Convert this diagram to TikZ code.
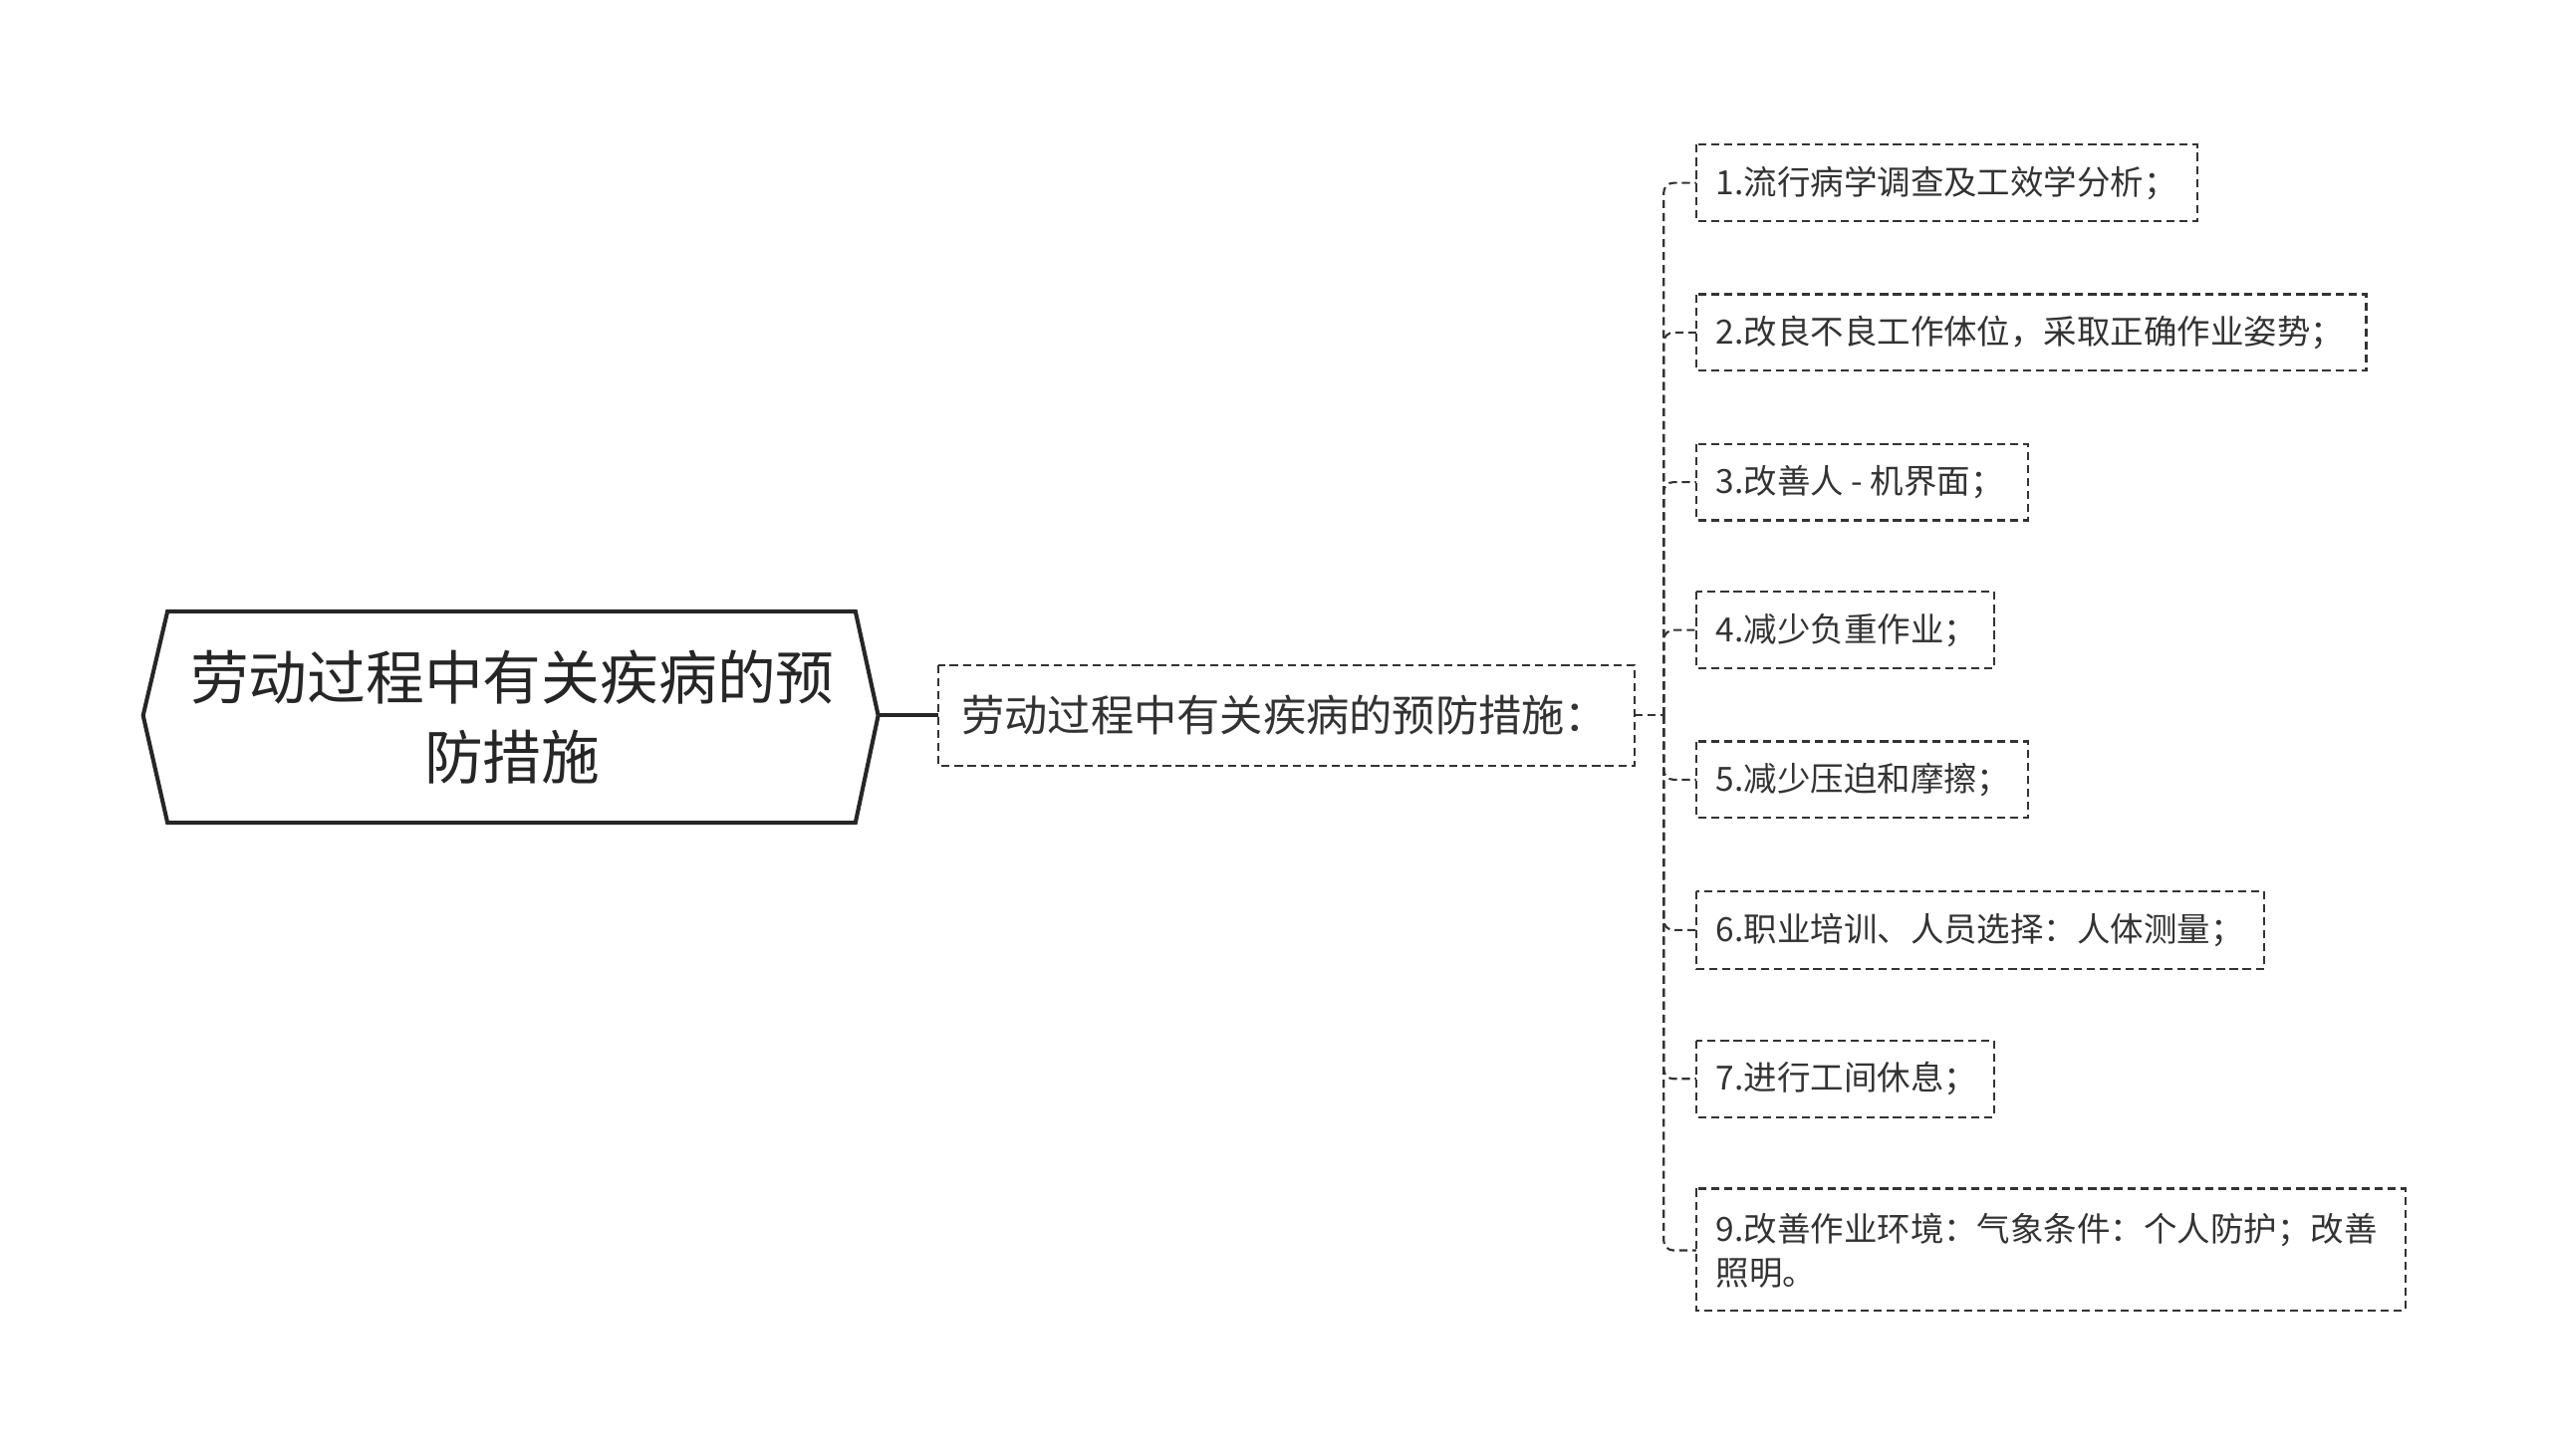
\documentclass[tikz,border=0pt]{standalone}
\usepackage{fontspec}
\setmainfont{Noto Sans CJK SC}
\begin{document}
\begin{tikzpicture}[x=1pt,y=-1pt,
  leaf/.style={draw=black!80,dashed,line width=1.3pt,dash pattern=on 5pt off 3pt},
  lt/.style={anchor=west,text=black!80,font=\fontsize{20.5}{27}\selectfont,inner sep=0pt,align=left},
  con/.style={draw=black!80,line width=1.3pt,dash pattern=on 5pt off 3pt}]
\useasboundingbox (0,0) rectangle (1568,895);
\draw[line width=2.5pt,draw=black!85,fill=white] (88,440)--(103,376)--(526,376)--(540,440)--(526,506)--(103,506)--cycle;
\node[text=black!85,font=\fontsize{36}{49}\selectfont,align=center] (root) at (315,441) {劳动过程中有关疾病的预\\防措施};
\coordinate (rr) at (540,440);
\draw[leaf] (577,409) rectangle (1005,471);
\coordinate (cl) at (577,440);
\coordinate (cr) at (1005,440);
\draw[line width=2.5pt,black!85] (rr)--(cl);
\node[lt,font=\fontsize{26.5}{30}\selectfont] (child) at (591,440) {劳动过程中有关疾病的预防措施：};
\coordinate (j) at (1023,440);
\draw[con] (cr)--(j);
\foreach \i/\yt/\yb/\xr/\t in {1/89/136/1351/{1.流行病学调查及工效学分析；},
  2/181/228/1455/{2.改良不良工作体位，采取正确作业姿势；},
  3/273/320/1247/{3.改善人 - 机界面；},
  4/364/411/1226/{4.减少负重作业；},
  5/456/503/1247/{5.减少压迫和摩擦；},
  6/548/596/1392/{6.职业培训、人员选择：人体测量；},
  7/640/687/1226/{7.进行工间休息；}}{
  \draw[leaf] (1043,\yt) rectangle (\xr,\yb);
  \node[lt] (l\i) at (1055,{(\yt+\yb)/2}) {\t};
  \draw[con,rounded corners=6pt] (j)--(1023,{(\yt+\yb)/2})--(1043,{(\yt+\yb)/2});
}
\draw[leaf] (1043,731) rectangle (1479,806);
\node[lt] (l9) at (1055,769) {9.改善作业环境：气象条件：个人防护；改善\\照明。};
\draw[con,rounded corners=6pt] (j)--(1023,769)--(1043,769);
\end{tikzpicture}
\end{document}
